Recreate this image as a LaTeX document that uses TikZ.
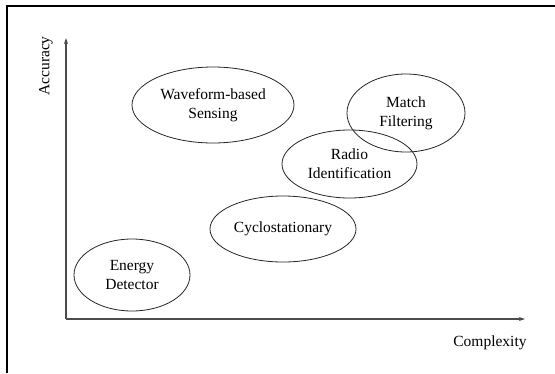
\documentclass[tikz,border=0pt]{standalone}
\usepackage{fontspec}
\setmainfont{Liberation Serif}
\usetikzlibrary{shapes.geometric,arrows.meta}
\tikzset{
  blob/.style={draw=black!85,line width=0.8pt,ellipse,inner sep=0pt,align=center,
    font=\fontsize{15.5}{19}\selectfont},
  axisline/.style={draw=black!70,line width=1.2pt,-{Stealth[length=6pt,width=4pt]}},
  axislabel/.style={font=\fontsize{15.5}{19}\selectfont,inner sep=0pt},
}
\begin{document}
\begin{tikzpicture}[x=1pt,y=-1pt]
\useasboundingbox (0,0) rectangle (555,373);
\fill[white] (0,0) rectangle (555,373);
\draw[line width=2pt] (7,373) -- (7,5.5) -- (555,5.5);
\coordinate (O) at (66,319);
\coordinate (ytip) at (66,38);
\coordinate (xtip) at (525,319);
\draw[axisline] (O) -- (ytip);
\draw[axisline] (O) -- (xtip);
\node[axislabel,rotate=90] (acc) at (46,66) {Accuracy};
\node[axislabel] (cx) at (490,343) {Complexity};
\node[blob,minimum width=162pt,minimum height=76pt] (wave) at (213,105) {Waveform-based\\Sensing};
\node[blob,minimum width=118pt,minimum height=78pt] (match) at (406,113) {Match\\Filtering};
\node[blob,minimum width=135pt,minimum height=68pt] (radio) at (349.5,164) {Radio\\Identification};
\node[blob,minimum width=146pt,minimum height=66pt] (cyclo) at (283,229) {Cyclostationary};
\node[blob,minimum width=116pt,minimum height=72pt] (energy) at (132,275) {Energy\\Detector};
\end{tikzpicture}
\end{document}
